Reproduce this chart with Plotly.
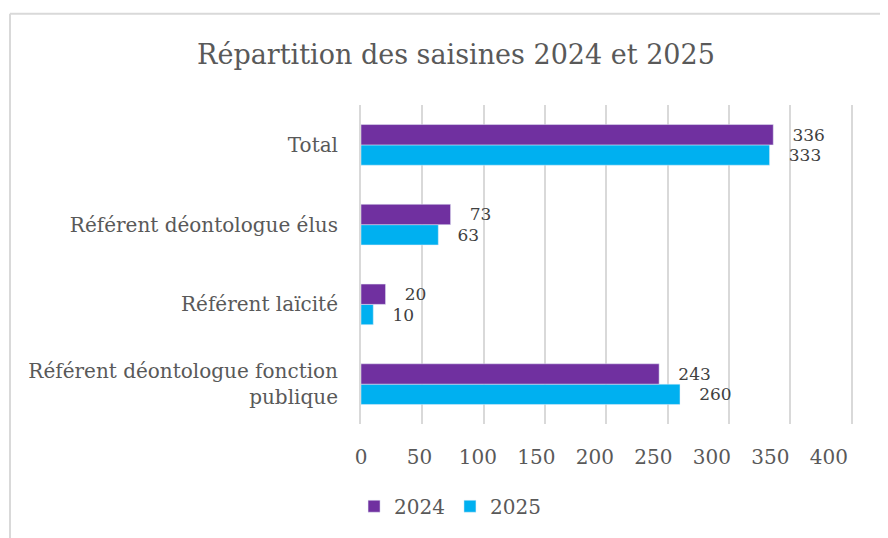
import plotly.graph_objects as go

categories = ["Référent déontologue fonction<br>publique", "Référent laïcité",
              "Référent déontologue élus", "Total"]
values_2024 = [243, 20, 73, 336]
values_2025 = [260, 10, 63, 333]
tick_vals = [0, 50, 100, 150, 200, 250, 300, 350, 400]
tick_text = [str(v) for v in tick_vals]

FONT = "DejaVu Serif"
# page body has an 8px margin: figure is drawn 8px right/down
OFF = 8
W, H = 888 - OFF, 538 - OFF
X_MAX = 401
UNIT = 491 / 400            # px per unit
L = 361 - OFF
T = 105 - OFF
PW = round(X_MAX * UNIT)
R = W - L - PW
B = H - (427 - OFF)

ph = H - T - B
px2x = lambda p: (p - OFF - L) / PW
py2y = lambda p: (H - B - (p - OFF)) / ph

# the original's tick labels sit on a slightly compressed scale
LABEL_SCALE = 1.17 / UNIT
label_pos = [v * LABEL_SCALE for v in tick_vals]

fig = go.Figure()
fig.add_trace(go.Bar(
    y=categories, x=values_2025, name="2025", orientation="h",
    marker=dict(color="#00B0F0"),
    text=[str(v) for v in values_2025], textposition="outside",
    texttemplate="&nbsp;&nbsp;&nbsp;%{text}", constraintext="none",
    textfont=dict(family=FONT, size=17, color="#404040"), cliponaxis=False,
))
fig.add_trace(go.Bar(
    y=categories, x=values_2024, name="2024", orientation="h",
    marker=dict(color="#7030A0"),
    text=[str(v) for v in values_2024], textposition="outside",
    texttemplate="&nbsp;&nbsp;&nbsp;%{text}", constraintext="none",
    textfont=dict(family=FONT, size=17, color="#404040"), cliponaxis=False,
))

fig.update_layout(
    width=W, height=H,
    margin=dict(l=L, r=R, t=T, b=B),
    paper_bgcolor="white", plot_bgcolor="white",
    barmode="group", bargap=0.49, bargroupgap=0,
    title=dict(text="Répartition des saisines 2024 et 2025", x=(456 - OFF) / W, xanchor="center",
               y=1 - (55 - OFF) / H, yanchor="middle",
               font=dict(family=FONT, size=27, color="#595959")),
    xaxis=dict(range=[0, X_MAX], tickmode="array", tickvals=label_pos, ticktext=tick_text,
               showgrid=False, zeroline=False, showline=False,
               tickfont=dict(family=FONT, size=20, color="#595959"),
               ticklabelstandoff=19,
               minor=dict(tick0=0, dtick=50, showgrid=True, gridcolor="#D9D9D9",
                          gridwidth=2, ticks="")),
    yaxis=dict(showgrid=False, zeroline=False, showline=True, linecolor="#D9D9D9",
               linewidth=2,
               tickfont=dict(family=FONT, size=20, color="#595959"),
               ticklabelstandoff=17),
    legend=dict(orientation="h", x=0.181, xanchor="center", y=py2y(510), yanchor="middle",
                traceorder="reversed",
                font=dict(family=FONT, size=20, color="#595959"),
                itemwidth=30),
    showlegend=True,
    shapes=[
        dict(type="line", xref="paper", yref="paper", x0=px2x(10), x1=px2x(10),
             y0=py2y(13), y1=py2y(560), line=dict(color="#D9D9D9", width=2)),
        dict(type="line", xref="paper", yref="paper", x0=px2x(10), x1=px2x(900),
             y0=py2y(13), y1=py2y(13), line=dict(color="#D9D9D9", width=2)),
    ],
)

fig.write_html("out.html")
